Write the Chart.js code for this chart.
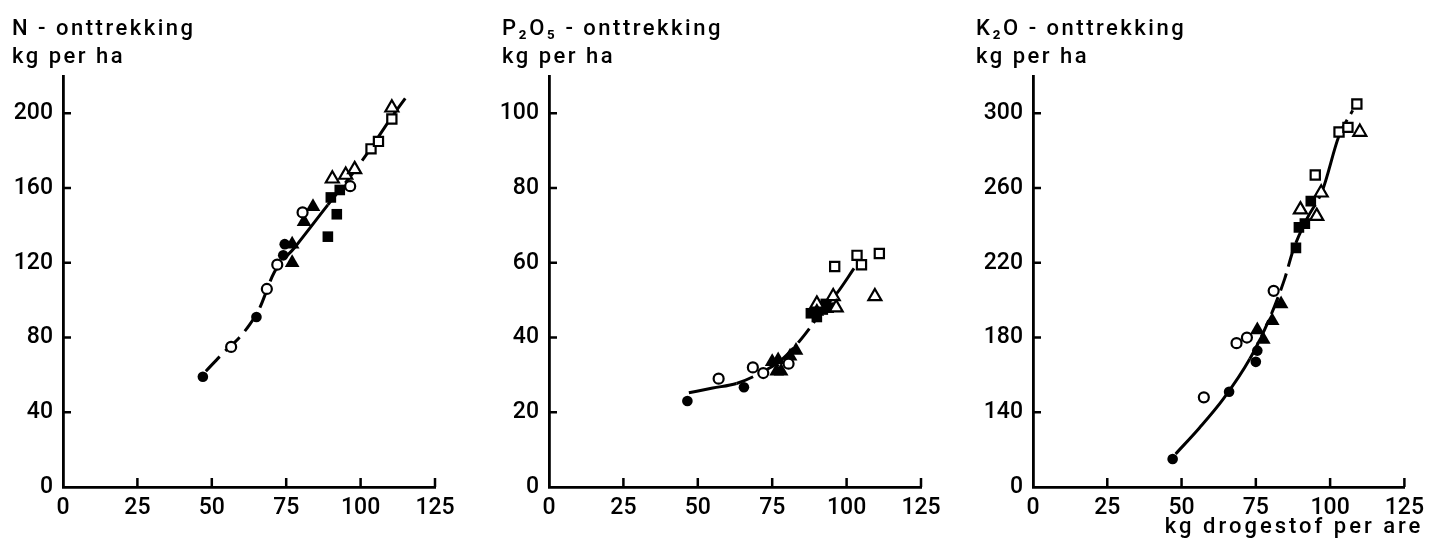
<!DOCTYPE html>
<html>
<head>
<meta charset="utf-8">
<script src="https://cdn.jsdelivr.net/npm/chart.js@4.4.1/dist/chart.umd.min.js"></script>
<style>
  body { margin: 0; background: #fff; }
  .panel { position: absolute; top: 0; width: 477px; height: 540px; }
</style>
</head>
<body>
<div class="panel" style="left:0"><canvas id="chartN" width="477" height="540"></canvas></div>
<div class="panel" style="left:477px"><canvas id="chartP" width="477" height="540"></canvas></div>
<div class="panel" style="left:954px"><canvas id="chartK" width="477" height="540"></canvas></div>
<script>
const FONT = 'Roboto, "DejaVu Sans", sans-serif';

// shared x axis: kg drogestof per are
const xTicks = [0, 25, 50, 75, 100, 125];

// N-onttrekking
const nYTicks = [0, 40, 80, 120, 160, 200];
const nFilledCircles = [[47, 59], [65, 91], [74.5, 130], [74, 124]];
const nOpenCircles = [[56.5, 75], [68.5, 106], [72, 119], [80.5, 147], [96.5, 161]];
const nFilledTriangles = [[77, 130], [77, 120], [81, 142], [84, 150]];
const nOpenTriangles = [[90.5, 165], [95, 167], [98, 170], [110.5, 203]];
const nFilledSquares = [[89, 134], [92, 146], [90, 155], [93, 159]];
const nOpenSquares = [[103.5, 181], [106, 185], [110.5, 197]];
const nCurve = [[48, 62], [54, 72], [58.4, 78.6], [62.6, 86.6], [66, 95.5], [71, 115], [78, 128.5], [89, 151], [95, 163], [102, 178], [110, 197], [115, 208]];

// P2O5-onttrekking
const pYTicks = [0, 20, 40, 60, 80, 100];
const pFilledCircles = [[46.5, 23], [65.5, 26.7]];
const pOpenCircles = [[57, 29], [68.5, 32], [72, 30.5], [80.5, 33]];
const pFilledTriangles = [[75, 33.5], [76.5, 31], [77, 34], [78, 31], [81, 35], [83, 36.5], [90, 47]];
const pOpenTriangles = [[90, 49], [95.5, 51], [96.5, 48], [109.5, 51]];
const pFilledSquares = [[88, 46.5], [90, 45.5], [92, 47.5], [93, 49], [94, 48]];
const pOpenSquares = [[96, 59], [103.5, 62], [105, 59.5], [111, 62.5]];
const pCurve = [[47, 25.2], [55, 26.5], [63, 27.7], [71, 30.5], [78, 34], [84, 38.9], [88.5, 43.5], [92, 47.5], [96.7, 51.8], [102.5, 58.5]];

// K2O-onttrekking (axis broken below 140)
const kYTicks = [100, 140, 180, 220, 260, 300];
const kFilledCircles = [[47, 115], [66, 151], [75, 167], [75.5, 173]];
const kOpenCircles = [[57.5, 148], [68.5, 177], [72, 180], [81, 205]];
const kFilledTriangles = [[77.5, 179], [75.5, 184], [80.5, 189], [83.5, 198]];
const kOpenTriangles = [[90, 248.5], [95.5, 245], [97, 257.5], [110, 290]];
const kFilledSquares = [[88.5, 228], [89.5, 239], [91.5, 241], [93.5, 253]];
const kOpenSquares = [[95, 267], [103, 290], [106, 292.5], [109, 305]];
const kCurve = [[48, 117.7], [56, 131.6], [64, 147], [73, 168.6], [79, 188], [84.7, 211.4], [87.5, 226.5], [92, 243], [97.4, 258.7], [103, 288], [107.6, 301.6]];

function markers(data, style, radius, filled) {
  return {
    data: data,
    pointStyle: style,
    pointRadius: radius,
    pointBackgroundColor: filled ? '#000' : '#fff',
    pointBorderColor: '#000',
    pointBorderWidth: filled ? 0 : 2.2,
    showLine: false,
    order: 0,
  };
}

function curve(data, solid, dash) {
  const isSolid = x => solid.some(r => x >= r[0] && x < r[1]);
  return {
    data: data,
    showLine: true,
    pointRadius: 0,
    borderColor: '#000',
    borderWidth: 3,
    cubicInterpolationMode: 'monotone',
    segment: {
      borderDash: ctx => isSolid(ctx.p0.parsed.x) ? [] : dash,
    },
    order: 10,
  };
}

// inward tick marks on both axes, plus the panel headings
const axisText = {
  id: 'axisText',
  afterDraw(chart) {
    const o = chart.options.plugins.axisText;
    const { ctx, chartArea } = chart;
    const xs = chart.scales.x, ys = chart.scales.y;
    ctx.save();
    ctx.strokeStyle = '#000';
    ctx.lineWidth = 2.5;
    ctx.beginPath();
    xs.ticks.forEach(t => {
      const px = xs.getPixelForValue(t.value);
      if (t.value === 0) return;
      ctx.moveTo(px, chartArea.bottom);
      ctx.lineTo(px, chartArea.bottom - 9);
    });
    ys.ticks.forEach((t, i) => {
      if (i === 0) return;
      const py = ys.getPixelForValue(t.value);
      ctx.moveTo(chartArea.left, py);
      ctx.lineTo(chartArea.left + 8, py);
    });
    ctx.stroke();

    ctx.fillStyle = '#000';
    ctx.font = '500 22px ' + FONT;
    ctx.letterSpacing = '2.5px';
    ctx.textBaseline = 'alphabetic';
    ctx.textAlign = 'left';
    o.heading.forEach((line, i) => {
      ctx.fillText(line, chartArea.left - o.indent, 35 + i * 28);
    });
    if (o.xTitle) {
      ctx.letterSpacing = '3px';
      ctx.textAlign = 'right';
      ctx.fillText(o.xTitle, chartArea.right + 19, 533);
    }
    ctx.restore();
  }
};

function makePanel(id, opts) {
  const tickFont = { family: FONT, size: 23, weight: '500' };
  new Chart(document.getElementById(id), {
    type: 'scatter',
    data: {
      datasets: [
        markers(opts.filledCircles, 'circle', 5.3, true),
        markers(opts.openCircles, 'circle', 5, false),
        markers(opts.filledTriangles, 'triangle', 8.5, true),
        markers(opts.openTriangles, 'triangle', 7.5, false),
        markers(opts.filledSquares, 'rect', 7.5, true),
        markers(opts.openSquares, 'rect', 6.5, false),
        curve(opts.curve, opts.solid, opts.dash),
      ],
    },
    options: {
      responsive: false,
      animation: false,
      events: [],
      layout: { padding: { top: 76, left: 0, right: opts.rightPad, bottom: 0 } },
      plugins: {
        legend: { display: false },
        tooltip: { enabled: false },
        axisText: { heading: opts.heading, indent: opts.indent, xTitle: opts.xTitle },
      },
      scales: {
        x: {
          type: 'linear',
          min: 0,
          max: 125,
          afterBuildTicks: s => { s.ticks = xTicks.map(v => ({ value: v })); },
          afterFit: s => { s.height = 53; },
          ticks: { font: tickFont, color: '#000', padding: 7, maxRotation: 0, autoSkip: false },
          grid: { display: false, drawTicks: false },
          border: { color: '#000', width: 2.8 },
        },
        y: {
          type: 'linear',
          min: opts.yTicks[0],
          max: opts.yMax,
          afterBuildTicks: s => { s.ticks = opts.yTicks.map(v => ({ value: v })); },
          afterFit: s => { s.width = opts.axisLeft; },
          ticks: {
            font: tickFont,
            color: '#000',
            padding: 10,
            autoSkip: false,
            callback: (v, i) => i === 0 ? '0' : String(v),
          },
          grid: { display: false, drawTicks: false },
          border: { color: '#000', width: 2.8 },
        },
      },
    },
    plugins: [axisText],
  });
}

makePanel('chartN', {
  heading: ['N - onttrekking', 'kg per ha'],
  indent: 51, axisLeft: 63, rightPad: 42,
  yTicks: nYTicks, yMax: 220,
  filledCircles: nFilledCircles, openCircles: nOpenCircles,
  filledTriangles: nFilledTriangles, openTriangles: nOpenTriangles,
  filledSquares: nFilledSquares, openSquares: nOpenSquares,
  curve: nCurve, solid: [[78, 89]], dash: [20, 8],
});

makePanel('chartP', {
  heading: ['P\u2082O\u2085 - onttrekking', 'kg per ha'],
  indent: 47, axisLeft: 72, rightPad: 33,
  yTicks: pYTicks, yMax: 110,
  filledCircles: pFilledCircles, openCircles: pOpenCircles,
  filledTriangles: pFilledTriangles, openTriangles: pOpenTriangles,
  filledSquares: pFilledSquares, openSquares: pOpenSquares,
  curve: pCurve, solid: [[46, 63], [96, 103]], dash: [18, 7],
});

makePanel('chartK', {
  heading: ['K\u2082O - onttrekking', 'kg per ha'],
  indent: 57, axisLeft: 79, rightPad: 26,
  yTicks: kYTicks, yMax: 320,
  filledCircles: kFilledCircles, openCircles: kOpenCircles,
  filledTriangles: kFilledTriangles, openTriangles: kOpenTriangles,
  filledSquares: kFilledSquares, openSquares: kOpenSquares,
  curve: kCurve, solid: [[46, 73], [97, 103]], dash: [18, 7],
  xTitle: 'kg drogestof per are',
});
</script>
</body>
</html>
